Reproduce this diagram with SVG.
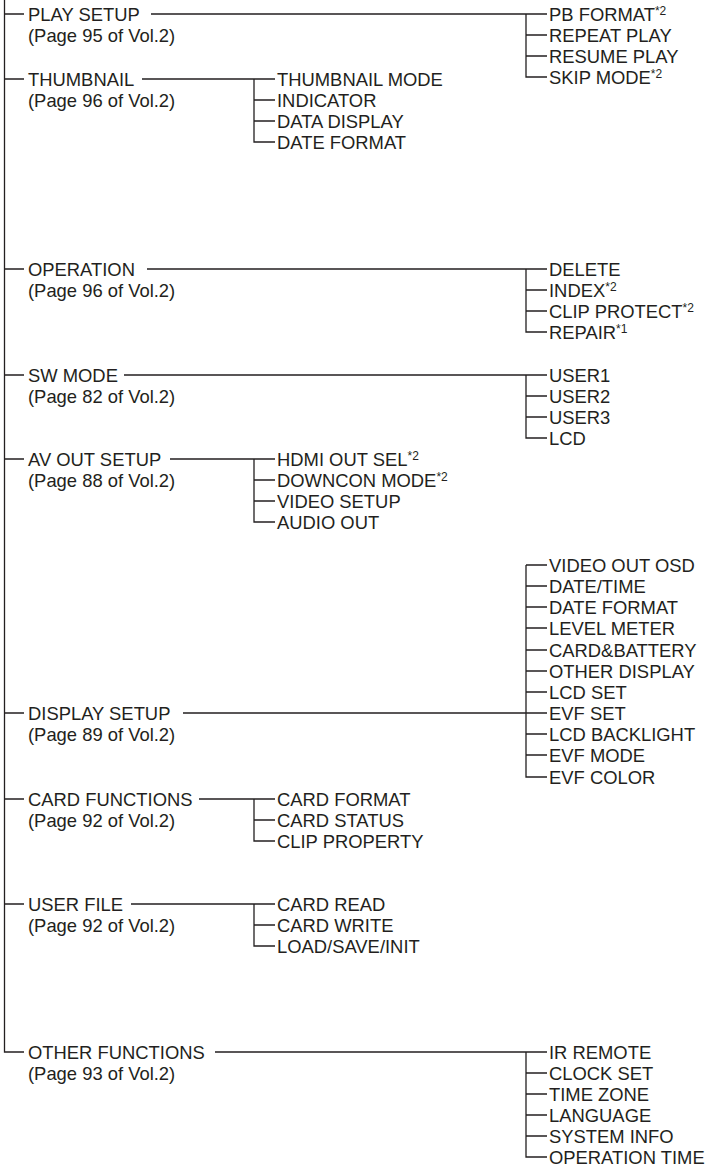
<svg xmlns="http://www.w3.org/2000/svg" width="710" height="1167" viewBox="0 0 710 1167">
<style>
text{font-family:"Liberation Sans",Arial,sans-serif;font-size:18.4px;fill:#231f20}
.sup{font-size:12px}
.c path{fill:none;stroke:#231f20;stroke-width:1.3}
</style>
<rect width="710" height="1167" fill="#fff"/>
<g class="c" id="connectors">
<path d="M4.5,0V1052H24M4.5,14H24M4.5,79H24M4.5,269H24M4.5,375H24M4.5,459H24M4.5,713H24M4.5,799H24M4.5,904H24"/>
<path d="M151,14H547M526,14V77H547M526,35H547M526,56H547"/>
<path d="M142,79H275M254,79V142H275M254,100H275M254,121H275"/>
<path d="M147,269H547M526,269V332H547M526,290H547M526,311H547"/>
<path d="M124,375H547M526,375V438H547M526,396H547M526,417H547"/>
<path d="M170,459H275M254,459V522H275M254,480H275M254,501H275"/>
<path d="M183,713H526M526,565V777H547M526,565H547M526,586H547M526,607H547M526,628H547M526,650H547M526,671H547M526,692H547M526,713H547M526,734H547M526,755H547"/>
<path d="M199,799H275M254,799V841H275M254,820H275"/>
<path d="M131,904H275M254,904V946H275M254,925H275"/>
<path d="M215,1052H547M526,1052V1157H547M526,1073H547M526,1094H547M526,1115H547M526,1136H547"/>
</g>
<g id="play-setup"><text x="28" y="20.5">PLAY SETUP</text><text x="28" y="41.5">(Page 95 of Vol.2)</text></g>
<g id="play-setup-items">
<text x="549" y="20.5">PB FORMAT<tspan class="sup" dy="-6">*2</tspan></text>
<text x="549" y="41.5">REPEAT PLAY</text>
<text x="549" y="62.5">RESUME PLAY</text>
<text x="549" y="83.5">SKIP MODE<tspan class="sup" dy="-6">*2</tspan></text>
</g>
<g id="thumbnail"><text x="28" y="85.5">THUMBNAIL</text><text x="28" y="106.5">(Page 96 of Vol.2)</text></g>
<g id="thumbnail-items">
<text x="277" y="85.5">THUMBNAIL MODE</text>
<text x="277" y="106.5">INDICATOR</text>
<text x="277" y="127.5">DATA DISPLAY</text>
<text x="277" y="148.5">DATE FORMAT</text>
</g>
<g id="operation"><text x="28" y="275.5">OPERATION</text><text x="28" y="296.5">(Page 96 of Vol.2)</text></g>
<g id="operation-items">
<text x="549" y="275.5">DELETE</text>
<text x="549" y="296.5">INDEX<tspan class="sup" dy="-6">*2</tspan></text>
<text x="549" y="317.5">CLIP PROTECT<tspan class="sup" dy="-6">*2</tspan></text>
<text x="549" y="338.5">REPAIR<tspan class="sup" dy="-6">*1</tspan></text>
</g>
<g id="sw-mode"><text x="28" y="381.5">SW MODE</text><text x="28" y="402.5">(Page 82 of Vol.2)</text></g>
<g id="sw-mode-items">
<text x="549" y="381.5">USER1</text>
<text x="549" y="402.5">USER2</text>
<text x="549" y="423.5">USER3</text>
<text x="549" y="444.5">LCD</text>
</g>
<g id="av-out-setup"><text x="28" y="465.5">AV OUT SETUP</text><text x="28" y="486.5">(Page 88 of Vol.2)</text></g>
<g id="av-out-items">
<text x="277" y="465.5">HDMI OUT SEL<tspan class="sup" dy="-6">*2</tspan></text>
<text x="277" y="486.5">DOWNCON MODE<tspan class="sup" dy="-6">*2</tspan></text>
<text x="277" y="507.5">VIDEO SETUP</text>
<text x="277" y="528.5">AUDIO OUT</text>
</g>
<g id="display-setup"><text x="28" y="719.5">DISPLAY SETUP</text><text x="28" y="740.5">(Page 89 of Vol.2)</text></g>
<g id="display-items">
<text x="549" y="571.5">VIDEO OUT OSD</text>
<text x="549" y="592.5">DATE/TIME</text>
<text x="549" y="613.5">DATE FORMAT</text>
<text x="549" y="634.5">LEVEL METER</text>
<text x="549" y="656.5">CARD&amp;BATTERY</text>
<text x="549" y="677.5">OTHER DISPLAY</text>
<text x="549" y="698.5">LCD SET</text>
<text x="549" y="719.5">EVF SET</text>
<text x="549" y="740.5">LCD BACKLIGHT</text>
<text x="549" y="761.5">EVF MODE</text>
<text x="549" y="783.5">EVF COLOR</text>
</g>
<g id="card-functions"><text x="28" y="805.5">CARD FUNCTIONS</text><text x="28" y="826.5">(Page 92 of Vol.2)</text></g>
<g id="card-functions-items">
<text x="277" y="805.5">CARD FORMAT</text>
<text x="277" y="826.5">CARD STATUS</text>
<text x="277" y="847.5">CLIP PROPERTY</text>
</g>
<g id="user-file"><text x="28" y="910.5">USER FILE</text><text x="28" y="931.5">(Page 92 of Vol.2)</text></g>
<g id="user-file-items">
<text x="277" y="910.5">CARD READ</text>
<text x="277" y="931.5">CARD WRITE</text>
<text x="277" y="952.5">LOAD/SAVE/INIT</text>
</g>
<g id="other-functions"><text x="28" y="1058.5">OTHER FUNCTIONS</text><text x="28" y="1079.5">(Page 93 of Vol.2)</text></g>
<g id="other-functions-items">
<text x="549" y="1058.5">IR REMOTE</text>
<text x="549" y="1079.5">CLOCK SET</text>
<text x="549" y="1100.5">TIME ZONE</text>
<text x="549" y="1121.5">LANGUAGE</text>
<text x="549" y="1142.5">SYSTEM INFO</text>
<text x="549" y="1163.5">OPERATION TIME</text>
</g>
</svg>
